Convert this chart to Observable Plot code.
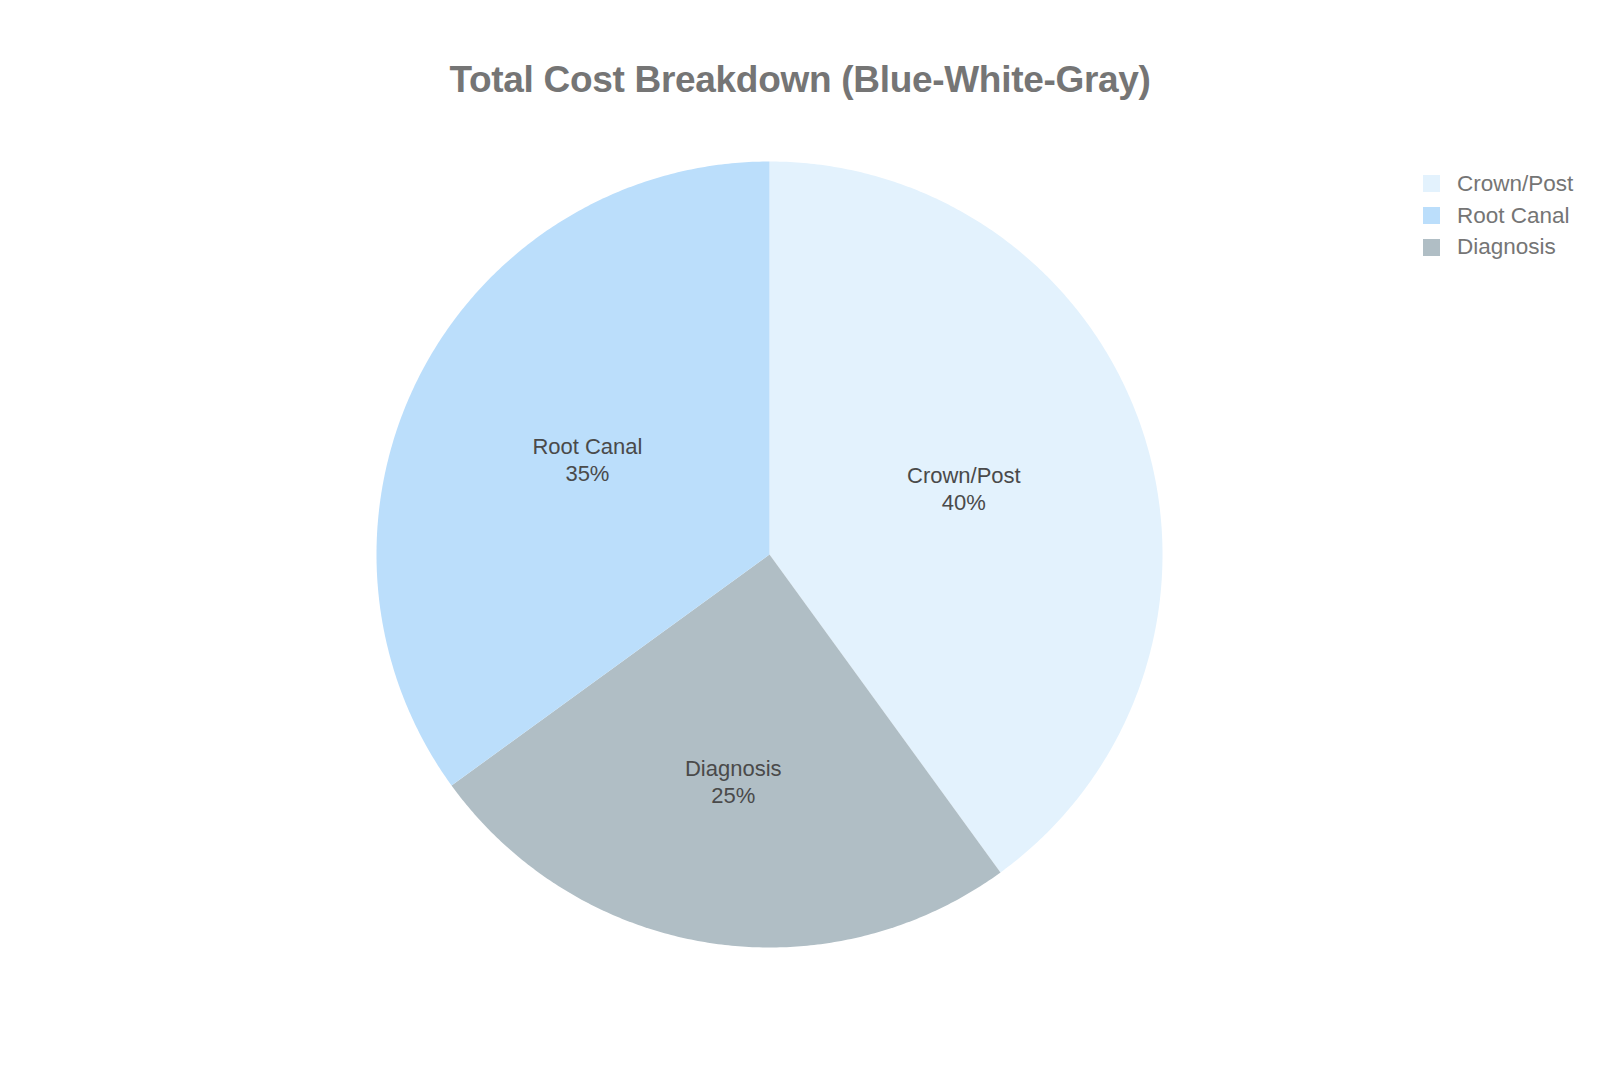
<!DOCTYPE html>
<html>
<head>
<meta charset="utf-8">
<script src="https://cdn.jsdelivr.net/npm/d3@7"></script>
<script src="https://cdn.jsdelivr.net/npm/@observablehq/plot@0.6"></script>
<style>
  html, body { margin: 0; padding: 0; background: #fff; }
  #wrap { position: relative; width: 1600px; height: 1067px; font-family: "Liberation Sans", Arial, sans-serif; }
  #title { position: absolute; left: 0; top: 59px; width: 1600px; text-align: center; font-size: 37px; font-weight: bold; color: #757575; letter-spacing: -0.3px; }
  #legend { position: absolute; left: 1423px; top: 168px; font-size: 22.5px; color: #757575; }
  .item { display: flex; align-items: center; height: 31.7px; }
  .sw { width: 17px; height: 17px; margin-right: 17px; }
  #chart { position: absolute; left: 0; top: 0; }
</style>
</head>
<body>
<div id="wrap">
  <div id="chart"></div>
  <div id="title">Total Cost Breakdown (Blue-White-Gray)</div>
  <div id="legend"></div>
</div>
<script>
// Data
const categories = ["Crown/Post", "Root Canal", "Diagnosis"];
const shares = [40, 35, 25];
const colors = ["#E3F2FD", "#BBDEFB", "#B0BEC5"];
// clockwise drawing order from 12 o'clock
const drawOrder = ["Crown/Post", "Diagnosis", "Root Canal"];

const rows = drawOrder.map(c => ({category: c, value: shares[categories.indexOf(c)]}));
const total = d3.sum(rows, d => d.value);

// build slice polygons (angle measured clockwise from top)
const poly = [];
const labels = [];
let acc = 0;
for (const r of rows) {
  const a0 = acc / total * 2 * Math.PI;
  acc += r.value;
  const a1 = acc / total * 2 * Math.PI;
  poly.push({category: r.category, x: 0, y: 0});
  const n = Math.max(2, Math.ceil((a1 - a0) / (Math.PI / 360)));
  for (let i = 0; i <= n; i++) {
    const a = a0 + (a1 - a0) * i / n;
    poly.push({category: r.category, x: Math.sin(a), y: Math.cos(a)});
  }
  poly.push({category: r.category, x: 0, y: 0});
  const am = (a0 + a1) / 2;
  const lr = r.value < 30 ? 0.59 : 0.52;
  labels.push({category: r.category, value: r.value, x: lr * Math.sin(am), y: lr * Math.cos(am) + 0.008});
}

const cx = 769, cy = 554, R = 393;
const chart = Plot.plot({
  width: 1600,
  height: 1067,
  margin: 0,
  x: {domain: [-1, 1], range: [cx - R, cx + R], axis: null},
  y: {domain: [-1, 1], range: [cy + R, cy - R], axis: null},
  color: {domain: categories, range: colors},
  style: {background: "transparent", fontFamily: "Liberation Sans, Arial, sans-serif"},
  marks: [
    Plot.line(poly, {x: "x", y: "y", z: "category", fill: "category", stroke: "none", curve: "linear"}),
    Plot.text(labels, {
      x: "x", y: "y",
      text: d => `${d.category}\n${d.value}%`,
      fontSize: 22, lineHeight: 1.23, fill: "#4a4a4a"
    })
  ]
});
document.getElementById("chart").appendChild(chart);

const legend = document.getElementById("legend");
categories.forEach((c, i) => {
  const it = document.createElement("div");
  it.className = "item";
  it.innerHTML = `<div class="sw" style="background:${colors[i]}"></div><span>${c}</span>`;
  legend.appendChild(it);
});
</script>
</body>
</html>
